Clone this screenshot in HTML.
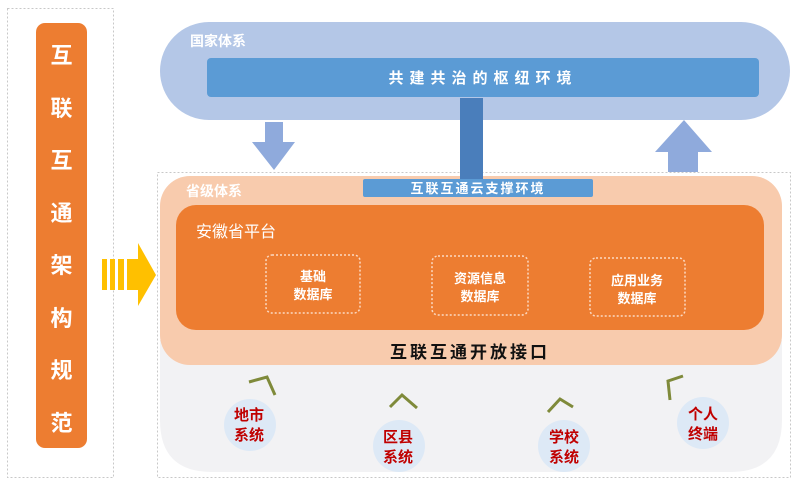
<!DOCTYPE html>
<html><head><meta charset="utf-8"><style>
html,body{margin:0;padding:0;background:#fff;}
svg text{font-family:"Liberation Sans","Noto Sans CJK SC",sans-serif;}
</style></head><body>
<svg width="800" height="496" viewBox="0 0 800 496" xmlns="http://www.w3.org/2000/svg">
<rect x="0" y="0" width="800" height="496" fill="#fff"/>
<!-- left box -->
<rect x="7.5" y="8.5" width="106" height="469" fill="#fff" stroke="#c8c8c8" stroke-dasharray="2,2"/>
<rect x="36" y="23" width="51" height="425" rx="9" fill="#ed7d31"/>
<g fill="#fff" font-size="22" font-weight="bold" text-anchor="middle">
<text x="61.5" y="63">互</text><text x="61.5" y="116">联</text><text x="61.5" y="168">互</text><text x="61.5" y="221">通</text>
<text x="61.5" y="273">架</text><text x="61.5" y="326">构</text><text x="61.5" y="378">规</text><text x="61.5" y="431">范</text>
</g>
<!-- yellow arrow -->
<g fill="#ffc000">
<rect x="102" y="259" width="5" height="31"/><rect x="110" y="259" width="5" height="31"/><rect x="118" y="259" width="6" height="31"/>
<polygon points="127,259 138,259 138,243 156,275 138,306 138,290 127,290"/>
</g>
<!-- blue pill -->
<rect x="160" y="22" width="630" height="98" rx="49" fill="#b4c7e7"/>
<text x="190" y="46" fill="#fff" font-size="14" font-weight="bold">国家体系</text>
<rect x="207" y="58" width="552" height="39" rx="4" fill="#5b9bd5"/>
<text x="483" y="83" fill="#fff" font-size="15" font-weight="bold" text-anchor="middle" letter-spacing="6">共建共治的枢纽环境</text>
<!-- outer dotted -->
<rect x="157.5" y="172.5" width="633" height="305" fill="#fff" stroke="#c8c8c8" stroke-dasharray="2,2"/>
<!-- grey region -->
<path d="M160,340 H782 V420 Q782,472 730,472 H212 Q160,472 160,420 Z" fill="#f2f2f4"/>
<!-- peach -->
<rect x="160" y="176" width="622" height="189" rx="30" fill="#f8cbad"/>
<text x="186" y="196" fill="#fff" font-size="14" font-weight="bold">省级体系</text>
<!-- arrows -->
<polygon points="265,122 283,122 283,142 295,142 274,170 252,142 265,142" fill="#8faadc"/>
<polygon points="668,172 698,172 698,152 712,152 684,120 655,152 668,152" fill="#8faadc"/>
<rect x="460" y="98" width="23" height="82" fill="#4a7ebb"/>
<rect x="363" y="179" width="230" height="18" rx="2" fill="#5b9bd5"/>
<text x="478" y="193" fill="#fff" font-size="13" font-weight="bold" text-anchor="middle" letter-spacing="2">互联互通云支撑环境</text>
<!-- orange inner -->
<rect x="176" y="205" width="588" height="125" rx="20" fill="#ed7d31"/>
<text x="196" y="237" fill="#fff" font-size="16">安徽省平台</text>
<g fill="none" stroke="#fbd9c2" stroke-width="1.5" stroke-dasharray="2,2">
<rect x="266" y="255" width="94" height="58" rx="6"/>
<rect x="432" y="256" width="96" height="59" rx="6"/>
<rect x="590" y="258" width="95" height="58" rx="6"/>
</g>
<g fill="#fff" font-size="13" font-weight="bold" text-anchor="middle">
<text x="313" y="281">基础</text><text x="313" y="299">数据库</text>
<text x="480" y="283">资源信息</text><text x="480" y="301">数据库</text>
<text x="637" y="285">应用业务</text><text x="637" y="303">数据库</text>
</g>
<text x="470" y="358" fill="#111" font-size="17" font-weight="bold" text-anchor="middle" letter-spacing="3">互联互通开放接口</text>
<!-- chevrons -->
<g fill="none" stroke="#7f8a3a" stroke-width="3">
<polyline points="249,382 267,377 275,395"/>
<polyline points="390,407 402,395 417,408"/>
<polyline points="548,412 560,399 573,407"/>
<polyline points="683,376 668,381 670,400"/>
</g>
<!-- circles -->
<g fill="#dde9f6">
<circle cx="250" cy="425" r="26"/><circle cx="399" cy="446" r="26"/>
<circle cx="564" cy="446" r="26"/><circle cx="703" cy="423" r="26"/>
</g>
<g fill="#c00000" font-size="15" font-weight="bold" text-anchor="middle">
<text x="249" y="420">地市</text><text x="249" y="440">系统</text>
<text x="398" y="442">区县</text><text x="398" y="462">系统</text>
<text x="564" y="442">学校</text><text x="564" y="462">系统</text>
<text x="703" y="419">个人</text><text x="703" y="439">终端</text>
</g>
</svg>
</body></html>
